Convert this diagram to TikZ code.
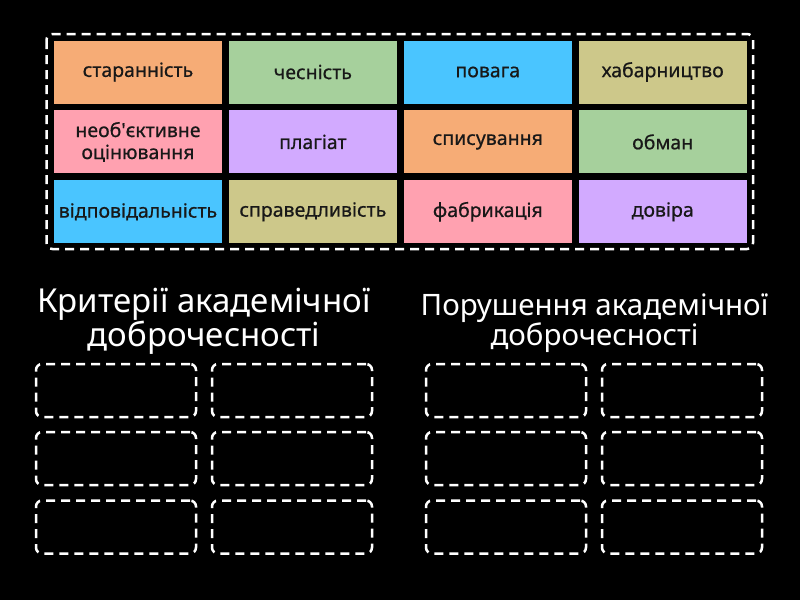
\documentclass[tikz,border=0pt]{standalone}
\usepackage{fontspec}
\setmainfont{Noto Sans}
\newfontfamily\tilefont{Noto Sans}[FakeBold=0.6]
\usetikzlibrary{positioning}
\definecolor{tileorange}{RGB}{246,172,118}
\definecolor{tilegreen}{RGB}{166,208,156}
\definecolor{tileblue}{RGB}{74,197,255}
\definecolor{tilekhaki}{RGB}{205,200,138}
\definecolor{tilepink}{RGB}{255,161,176}
\definecolor{tilepurple}{RGB}{210,170,255}
\definecolor{tiletext}{RGB}{24,24,24}
\tikzset{
    raw tile/.style={rectangle, minimum width=168pt, minimum height=63pt, inner sep=0pt, node distance=6.5pt and 6.5pt, align=center, text=tiletext, font=\tilefont\fontsize{19.5}{22}\selectfont},
    c1/.style={raw tile, fill=tileorange},
    c2/.style={raw tile, fill=tilegreen},
    c3/.style={raw tile, fill=tileblue},
    c4/.style={raw tile, fill=tilekhaki},
    c5/.style={raw tile, fill=tilepink},
    c6/.style={raw tile, fill=tilepurple},
    dashy/.style={draw=white, line width=2.5pt, dash pattern=on 9pt off 6pt, rounded corners=6pt},
    drop box/.style={dashy, rectangle, minimum width=160pt, minimum height=53pt, inner sep=0pt},
    heading/.style={text=white, align=center}
}

\begin{document}
\begin{tikzpicture}[x=1pt,y=-1pt]
	\fill[black] (0,0) rectangle (800,600);
	% word bank
	\draw[dashy] (46.5,34) rectangle (753,249);
	\node[c1] (t11) at (138,72) {старанність};
	\node[c2, right=of t11] (t12) {чесність};
	\node[c3, right=of t12] (t13) {повага};
	\node[c4, right=of t13] (t14) {хабарництво};
	\node[c5, below=of t11] (t21) {необ\textquotesingle єктивне\\оцінювання};
	\node[c6, right=of t21] (t22) {плагіат};
	\node[c1, right=of t22] (t23) {списування};
	\node[c2, right=of t23] (t24) {обман};
	\node[c3, below=of t21] (t31) {відповідальність};
	\node[c4, right=of t31] (t32) {справедливість};
	\node[c5, right=of t32] (t33) {фабрикація};
	\node[c6, right=of t33] (t34) {довіра};
	% groups
	\node[heading, font=\fontsize{33}{34}\selectfont] (hcrit) at (204,321) {Критерії академічної\\доброчесності};
	\node[heading, font=\fontsize{29.5}{30}\selectfont] (hviol) at (594.5,323.5) {Порушення академічної\\доброчесності};
	\foreach \g/\gx in {a/116, b/506}
		\foreach \r/\ry in {1/390.5, 2/458.5, 3/527}
			\foreach \c/\cx in {1/0, 2/176}
				\node[drop box] (box-\g-\r-\c) at (\gx+\cx,\ry) {};
\end{tikzpicture}
\end{document}
